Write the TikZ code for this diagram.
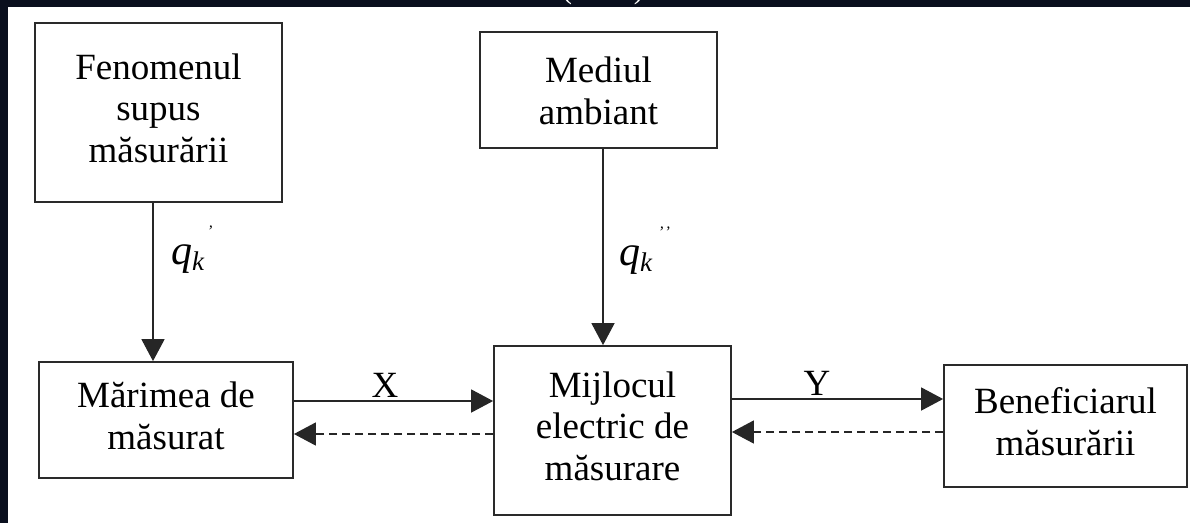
\documentclass[tikz,border=0pt]{standalone}
\usepackage{fontspec}
\setmainfont{Liberation Serif}
\usetikzlibrary{arrows.meta}
\definecolor{navy}{HTML}{0A0F1E}
\definecolor{edge}{HTML}{2A2A2A}
\newcommand{\uptext}[2]{\raisebox{#1}{\begin{tabular}{@{}c@{}}#2\end{tabular}}}
\newcommand{\shifttext}[2]{\raisebox{#1}[\height][\depth]{\begin{tabular}{@{}c@{}}#2\end{tabular}}}
\begin{document}
\begin{tikzpicture}[x=1pt,y=-1pt,
  box/.style={draw=edge,line width=1.8pt,fill=white,align=center,inner sep=0pt,
    font=\fontsize{37}{41.5}\selectfont},
  arr/.style={line width=1.6pt,draw=black!85,-{Triangle[length=22pt,width=23pt]}},
  dash arr/.style={arr,dash pattern=on 8pt off 5pt},
  lbl/.style={font=\fontsize{37}{40}\selectfont,inner sep=0pt}]
\useasboundingbox (0,0) rectangle (1190,523);
\fill[navy] (0,0) rectangle (1190,523);
\fill[white] (8,7) rectangle (1190,523);
% cropped title fragments
\node[text=white,font=\fontsize{30}{30}\selectfont,anchor=base,inner sep=0pt] (title) at (603,-2) {(\hspace{62pt})};
% boxes
\node[box,minimum width=247pt,minimum height=179pt] (f) at (158.5,112.5) {\uptext{14pt}{Fenomenul\\supus\\măsurării}};
\node[box,minimum width=237pt,minimum height=116pt] (a) at (598.5,90) {\shifttext{-5pt}{Mediul\\ambiant}};
\node[box,minimum width=254pt,minimum height=116pt] (mr) at (166,420) {\uptext{0pt}{Mărimea de\\măsurat}};
\node[box,minimum width=237pt,minimum height=169pt] (m) at (612.5,430.5) {\uptext{8pt}{Mijlocul\\electric de\\măsurare}};
\node[box,minimum width=243pt,minimum height=122pt] (b) at (1065.5,426) {\uptext{14pt}{Beneficiarul\\măsurării}};
% vertical arrows
\coordinate (v1) at ([xshift=-5.5pt]f.south);
\coordinate (v2) at ([xshift=4.5pt]a.south);
\draw[arr] (v1) -- (v1 |- mr.north);
\draw[arr] (v2) -- (v2 |- m.north);
% horizontal arrows
\coordinate (x1) at ([yshift=29.5pt]m.west);
\coordinate (x2) at ([yshift=-3.5pt]m.west);
\coordinate (y1) at ([yshift=31.5pt]m.east);
\coordinate (y2) at ([yshift=-1.5pt]m.east);
\draw[arr] (x1 -| mr.east) -- (x1);
\draw[dash arr] (x2) -- (x2 -| mr.east);
\draw[arr] (y1) -- (y1 -| b.west);
\draw[dash arr] (y2 -| b.west) -- (y2);
% labels
\node[lbl] (lx) at (385,385) {X};
\node[lbl] (ly) at (817,383) {Y};
\node[lbl,anchor=base west] (q1) at (171,264) {\fontsize{42}{42}\selectfont\itshape q\raisebox{-6pt}{\fontsize{27}{27}\selectfont k}\raisebox{28pt}{\fontsize{16}{16}\selectfont\hspace{3pt}’}};
\node[lbl,anchor=base west] (q2) at (619,265) {\fontsize{42}{42}\selectfont\itshape q\raisebox{-6pt}{\fontsize{27}{27}\selectfont k}\raisebox{28pt}{\fontsize{16}{16}\selectfont\hspace{6pt}’\hspace{1pt}’}};
\end{tikzpicture}
\end{document}
